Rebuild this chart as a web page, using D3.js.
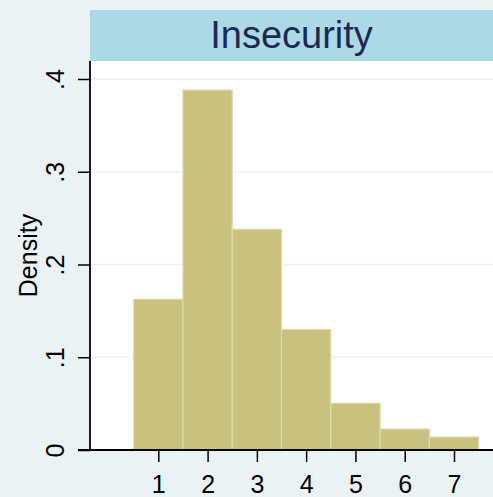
<!DOCTYPE html>
<html>
<head>
<meta charset="utf-8">
<script src="https://cdn.jsdelivr.net/npm/d3@7"></script>
<style>
  html, body { margin: 0; padding: 0; background: #EAF2F3; }
  svg { display: block; }
  text { font-family: "Liberation Sans", Arial, sans-serif; }
</style>
</head>
<body>
<svg id="chart" width="493" height="497"></svg>
<script>
// ---- data ----
const title = "Insecurity";
const categories = [1, 2, 3, 4, 5, 6, 7];
const density = [0.1625, 0.388, 0.238, 0.130, 0.0503, 0.0226, 0.014];
const yTicks = [0, 0.1, 0.2, 0.3, 0.4];
const yTickLabels = ["0", ".1", ".2", ".3", ".4"];
const xTicks = [1, 2, 3, 4, 5, 6, 7];
const yTitle = "Density";

// ---- layout ----
const W = 493, H = 497;
const plotLeft = 90, plotRight = 493, plotTop = 61, plotBottom = 450;

const svg = d3.select("#chart");
svg.append("rect").attr("x", 0).attr("y", 0).attr("width", W).attr("height", H).attr("fill", "#EAF2F3");

const x = d3.scaleLinear().domain([1, 7]).range([158.3, 454]);
const y = d3.scaleLinear().domain([0, 0.4]).range([plotBottom, 79]);

// title band
svg.append("rect").attr("x", plotLeft).attr("y", 10).attr("width", plotRight - plotLeft).attr("height", plotTop - 10)
  .attr("fill", "#ADD8E6");
svg.append("text").attr("x", (plotLeft + plotRight) / 2).attr("y", 48)
  .attr("text-anchor", "middle").attr("font-size", 38).attr("fill", "#1c2a52").text(title);

// plot region
svg.append("rect").attr("x", plotLeft).attr("y", plotTop).attr("width", plotRight - plotLeft).attr("height", plotBottom - plotTop)
  .attr("fill", "#FFFFFF");

// gridlines
svg.append("g").selectAll("line").data(yTicks.filter(d => d > 0)).join("line")
  .attr("x1", plotLeft).attr("x2", plotRight)
  .attr("y1", d => y(d)).attr("y2", d => y(d))
  .attr("stroke", "#EAF2F3").attr("stroke-width", 1.5);

// bars
const binW = x(1.5) - x(0.5);
svg.append("g").selectAll("rect").data(categories).join("rect")
  .attr("x", (d) => x(d - 0.5))
  .attr("y", (d, i) => y(density[i]))
  .attr("width", binW)
  .attr("height", (d, i) => y(0) - y(density[i]))
  .attr("fill", "#C9C27F")
  .attr("stroke", "#E0DAA8")
  .attr("stroke-width", 1.2);

// y axis
const yAxis = d3.axisLeft(y).tickValues(yTicks).tickFormat((d, i) => yTickLabels[i]).tickSize(12).tickPadding(0);
const gy = svg.append("g").attr("transform", `translate(${plotLeft},0)`).call(yAxis);
gy.select(".domain").remove();
gy.selectAll(".tick line").attr("stroke", "#000").attr("stroke-width", 1.5);
gy.selectAll(".tick text").attr("font-size", 25).attr("fill", "#000")
  .attr("transform", "rotate(-90)").attr("text-anchor", "middle")
  .attr("x", 0).attr("y", -26).attr("dy", 0);
svg.append("line").attr("x1", plotLeft).attr("x2", plotLeft).attr("y1", plotTop).attr("y2", plotBottom)
  .attr("stroke", "#000").attr("stroke-width", 1.8);

// x axis
const xAxis = d3.axisBottom(x).tickValues(xTicks).tickFormat(d3.format("d")).tickSize(12).tickPadding(6);
const gx = svg.append("g").attr("transform", `translate(0,${plotBottom})`).call(xAxis);
gx.select(".domain").remove();
gx.selectAll(".tick line").attr("stroke", "#000").attr("stroke-width", 1.5);
gx.selectAll(".tick text").attr("font-size", 25).attr("fill", "#000").attr("y", 43).attr("dy", 0);
svg.append("line").attr("x1", 78).attr("x2", plotRight).attr("y1", plotBottom).attr("y2", plotBottom)
  .attr("stroke", "#000").attr("stroke-width", 1.8);

// y title
svg.append("text").attr("transform", `translate(37,${(plotTop + plotBottom) / 2}) rotate(-90)`)
  .attr("text-anchor", "middle").attr("font-size", 25).attr("fill", "#000").text(yTitle);
</script>
</body>
</html>
